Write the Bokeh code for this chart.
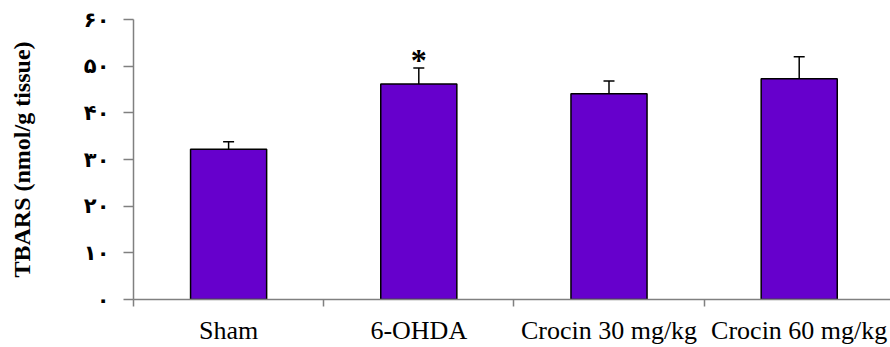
from bokeh.plotting import figure
from bokeh.models import Range1d, FixedTicker, Whisker, ColumnDataSource, TeeHead
from bokeh.core.properties import value
from bokeh.embed import file_html
from bokeh.resources import INLINE

categories = ["Sham", "6-OHDA", "Crocin 30 mg/kg", "Crocin 60 mg/kg"]
means = [32.2, 46.2, 44.1, 47.3]
sems = [1.6, 3.4, 2.7, 4.7]
significance = ["", "*", "", ""]
y_ticks = [0, 10, 20, 30, 40, 50, 60]
y_tick_labels = ["۰", "۱۰", "۲۰", "۳۰", "۴۰", "۵۰", "۶۰"]

xs = [i + 0.5 for i in range(len(categories))]
boundaries = list(range(len(categories) + 1))
uppers = [m + s for m, s in zip(means, sems)]

src = ColumnDataSource(dict(x=xs, mean=means, upper=uppers))

p = figure(width=890, height=347, x_range=Range1d(0, 3.98), y_range=Range1d(0, 60),
           output_backend="svg", toolbar_location=None,
           min_border_left=133, min_border_right=0, min_border_top=19, min_border_bottom=48)
p.outline_line_color = None
p.xgrid.grid_line_color = None
p.ygrid.grid_line_color = None
p.background_fill_color = "white"
p.border_fill_color = "white"

p.vbar(x="x", top="mean", width=0.4, source=src, fill_color="#6600CC",
       line_color="black", line_width=1.5)

w = Whisker(source=src, base="x", upper="upper", lower="mean",
            upper_head=TeeHead(size=11, line_width=1.5, line_color="black"),
            lower_head=None, line_width=1.5, line_color="black")
p.add_layout(w)

sx = [x for x, s in zip(xs, significance) if s]
sy = [u for u, s in zip(uppers, significance) if s]
st = [s for s in significance if s]
p.text(x=sx, y=sy, text=st, text_font=value("Liberation Serif"), text_font_size="32px",
       text_font_style="bold", text_align="center", text_baseline="middle",
       y_offset=-8, text_color="black")

axis_color = "#808080"
# y axis
yax = p.yaxis[0]
yax.ticker = FixedTicker(ticks=y_ticks, minor_ticks=[])
yax.major_label_overrides = dict(zip(y_ticks, y_tick_labels))
yax.axis_line_color = axis_color
yax.axis_line_width = 1.5
yax.major_tick_line_color = axis_color
yax.major_tick_line_width = 1.5
yax.major_tick_out = 10
yax.major_tick_in = 0
yax.minor_tick_line_color = None
yax.major_label_standoff = 14
yax.major_label_text_font = "DejaVu Sans"
yax.major_label_text_font_style = "bold"
yax.major_label_text_font_size = "21px"
yax.major_label_text_color = "black"
yax.axis_label = "TBARS (nmol/g tissue)"
yax.axis_label_text_font = "Liberation Serif"
yax.axis_label_text_font_style = "bold"
yax.axis_label_text_font_size = "24px"
yax.axis_label_text_color = "black"
yax.axis_label_standoff = 46

# x axis
xax = p.xaxis[0]
xax.ticker = FixedTicker(ticks=xs, minor_ticks=boundaries)
xax.major_label_overrides = dict(zip(xs, categories))
xax.axis_line_color = axis_color
xax.axis_line_width = 1.5
xax.major_tick_line_color = None
xax.major_tick_out = 0
xax.major_tick_in = 0
xax.minor_tick_line_color = axis_color
xax.minor_tick_line_width = 1.5
xax.minor_tick_out = 7
xax.minor_tick_in = 0
xax.major_label_standoff = 9
xax.major_label_text_font = "Liberation Serif"
xax.major_label_text_font_size = "26px"
xax.major_label_text_color = "black"

open("out.html", "w").write(file_html(p, INLINE))
